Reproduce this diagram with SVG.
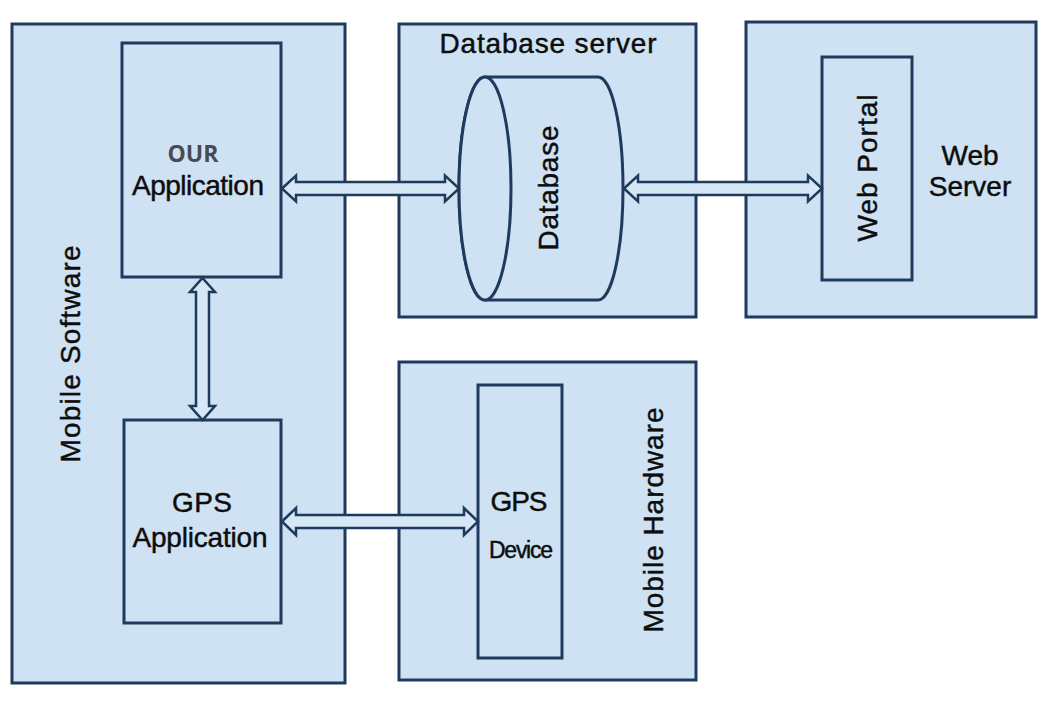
<svg xmlns="http://www.w3.org/2000/svg" width="1050" height="720" viewBox="0 0 1050 720">
<style>
.box{fill:#cfe2f3;stroke:#1e3a5c;stroke-width:3}
.inner{fill:#cfe2f3;stroke:#1e3a5c;stroke-width:3}
.arrow{fill:#d6e7f6;stroke:#1e3a5c;stroke-width:2.5;stroke-linejoin:miter}
.t{font-family:"Liberation Sans",Arial,sans-serif;fill:#0d0d0d;stroke:#0d0d0d;stroke-width:0.45;font-size:28px}
.our{font-family:"Open Sans","DejaVu Sans",sans-serif;font-weight:bold;fill:#4a4a52;font-size:23px}
</style>
<rect width="1050" height="720" fill="#ffffff"/>
<g id="mobile-software">
<rect class="box" x="12" y="24" width="333" height="659"/>
<text class="t" transform="translate(80,354) rotate(-90)" text-anchor="middle" textLength="217">Mobile Software</text>
</g>
<g id="database-server">
<rect class="box" x="399" y="24" width="297" height="293"/>
<text class="t" x="548" y="53" text-anchor="middle" textLength="217">Database server</text>
</g>
<g id="web-server">
<rect class="box" x="746" y="22" width="290" height="295"/>
<text class="t" x="970" y="165" text-anchor="middle">Web</text>
<text class="t" x="970" y="196" text-anchor="middle">Server</text>
</g>
<g id="mobile-hardware">
<rect class="box" x="399" y="362" width="297" height="318"/>
<text class="t" transform="translate(663,520) rotate(-90)" text-anchor="middle" textLength="225">Mobile Hardware</text>
</g>
<g id="our-application">
<rect class="inner" x="122" y="43" width="159" height="234"/>
<text class="our" x="193" y="162" text-anchor="middle">OUR</text>
<text class="t" x="198" y="195" text-anchor="middle" textLength="132">Application</text>
</g>
<g id="gps-application">
<rect class="inner" x="124" y="420" width="157" height="203"/>
<text class="t" x="202" y="512" text-anchor="middle" textLength="60">GPS</text>
<text class="t" x="200" y="547" text-anchor="middle" textLength="135">Application</text>
</g>
<g id="database">
<path class="inner" d="M485,77 L598,77 A25,111.5 0 0 1 598,300 L485,300 A26,111.5 0 0 1 485,77 Z"/>
<ellipse class="inner" cx="485" cy="188.5" rx="26" ry="111.5"/>
<text class="t" transform="translate(558,188) rotate(-90)" text-anchor="middle" textLength="125">Database</text>
</g>
<g id="web-portal">
<rect class="inner" x="822" y="57" width="90" height="223"/>
<text class="t" transform="translate(877,168) rotate(-90)" text-anchor="middle" textLength="147">Web Portal</text>
</g>
<g id="gps-device">
<rect class="inner" x="478" y="385" width="84" height="273"/>
<text class="t" x="519" y="511" text-anchor="middle" textLength="57">GPS</text>
<text class="t" x="521" y="558" text-anchor="middle" textLength="64" style="font-size:23px">Device</text>
</g>
<g id="connectors">
<polygon class="arrow" points="282,188.5 296,175.5 296,182 445,182 445,175.5 459,188.5 445,201.5 445,195 296,195 296,201.5"/>
<polygon class="arrow" points="624,188.5 638,175.5 638,182 808,182 808,175.5 822,188.5 808,201.5 808,195 638,195 638,201.5"/>
<polygon class="arrow" points="202.5,278 215,292 209,292 209,406 215,406 202.5,420 190,406 196,406 196,292 190,292"/>
<polygon class="arrow" points="282,521.5 296,508 296,515 464,515 464,508 478,521.5 464,535 464,528 296,528 296,535"/>
</g>
</svg>
